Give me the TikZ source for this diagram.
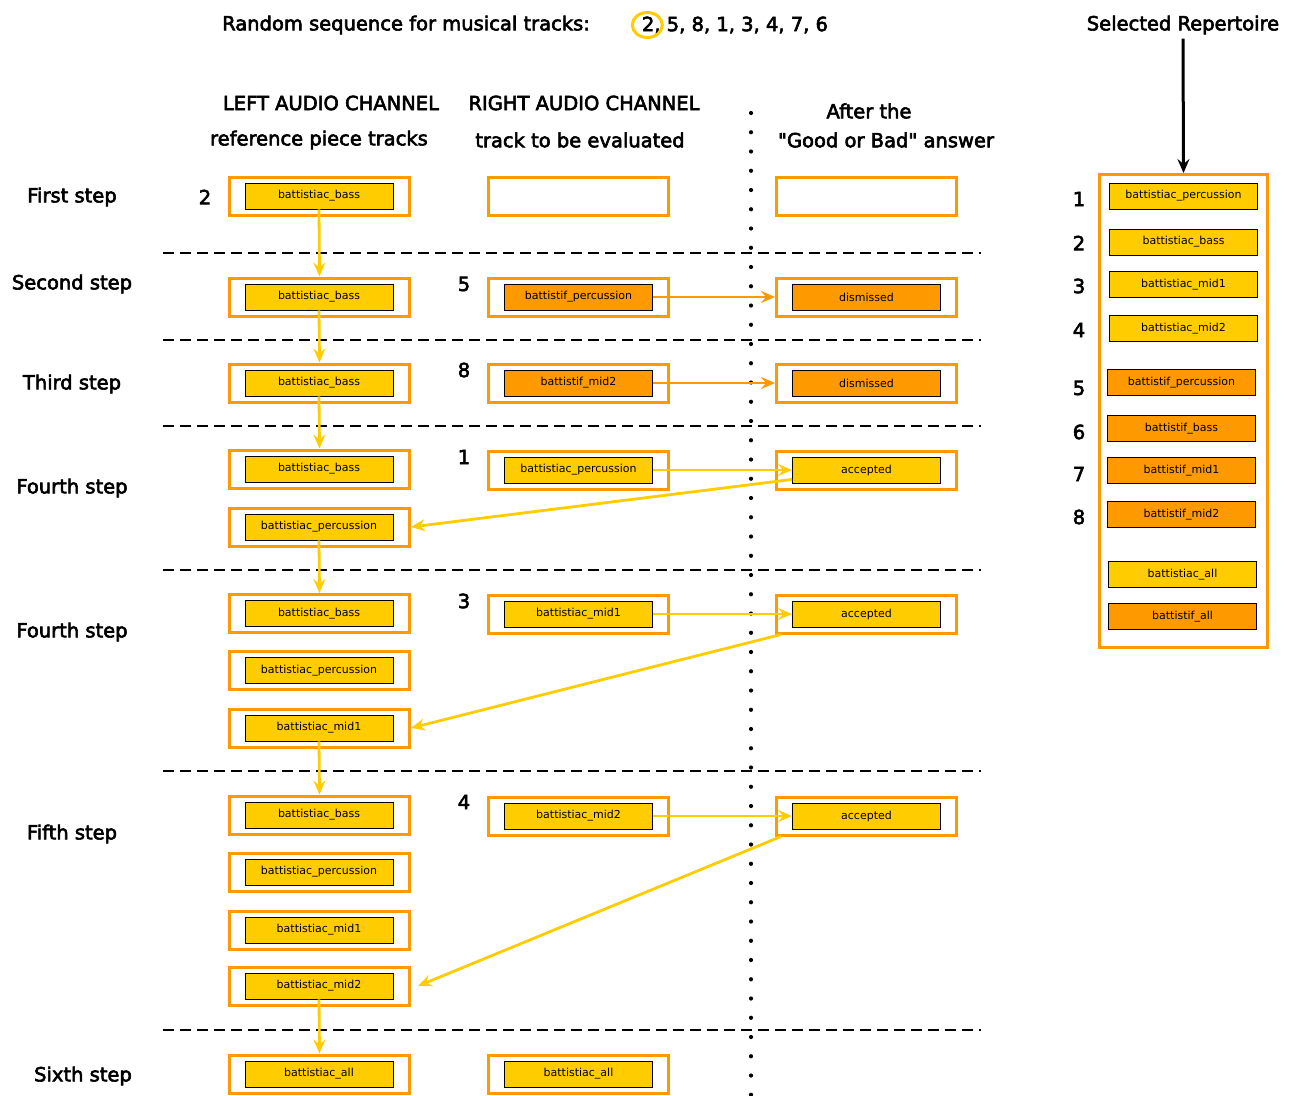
\documentclass[tikz,border=0pt]{standalone}
\usepackage{fontspec}
\setmainfont{DejaVu Sans}
\newfontfamily\hdfont{DejaVu Sans}[FakeBold=3,Ligatures=TeXOff]
\usetikzlibrary{arrows.meta}
\definecolor{gold}{HTML}{FFCC00}
\definecolor{amber}{HTML}{FF9900}
\tikzset{
  frame/.style={draw=amber,line width=3pt,minimum width=180pt,minimum height=38pt,inner sep=0pt},
  trk/.style={draw=black,line width=0.9pt,minimum width=148pt,minimum height=26pt,inner sep=0pt,font=\fontsize{11}{13}\selectfont},
  ac/.style={trk,fill=gold},
  tf/.style={trk,fill=amber},
  big/.style={font=\hdfont\fontsize{19.5}{23}\selectfont,inner sep=0pt},
  stepline/.style={line width=2pt,dash pattern=on 11pt off 6pt},
  yarr/.style={gold,line width=2.8pt,-{Stealth[length=14pt,width=12pt,inset=5pt]}},
  oarr/.style={amber,line width=2.8pt,-{Stealth[length=14pt,width=12pt,inset=5pt]}}
}
\begin{document}
\begin{tikzpicture}[x=1pt,y=-1pt]
\useasboundingbox (0,0) rectangle (1298,1095);
% dong tieu de
\node[big] (rnd) at (406,25) {Random sequence for musical tracks:};
\node[big] (seq) at (735,25) {2, 5, 8, 1, 3, 4, 7, 6};
\draw[gold,line width=3pt] ([xshift=5.5pt]seq.west) ellipse (15 and 12.5);
\node[big] (hl1) at (331,103) {LEFT AUDIO CHANNEL};
\node[big] (hl2) at (319,140) {reference piece tracks};
\node[big] (hm1) at (584,103) {RIGHT AUDIO CHANNEL};
\node[big] (hm2) at (580,140) {track to be evaluated};
\node[big] (hr1) at (869,111) {After the};
\node[big] (hr2) at (886,140) {"Good or Bad" answer};
% cac buoc
\node[big] (st1) at (72,197) {First step};
\node[big] (st2) at (72,284) {Second step};
\node[big] (st3) at (72,384) {Third step};
\node[big] (st4) at (72,488) {Fourth step};
\node[big] (st5) at (72,632) {Fourth step};
\node[big] (st6) at (72,834) {Fifth step};
\node[big] (st7) at (83,1076) {Sixth step};
% duong ngang, duong cham
\foreach \y in {253,340,426,570,771,1030}
\draw[stepline] (163,\y)--(981,\y);
\draw[line width=4.2pt,line cap=round,dash pattern=on 0pt off 19.25pt] (751,113)--(751,1095);
% cot trai
\foreach \n/\y/\t in {1/196/bass,2/297/bass,3/383/bass,4/469/bass,5/527/percussion,6/613.5/bass,7/670.5/percussion,8/728/mid1,9/815/bass,10/872/percussion,11/930/mid1,12/986/mid2,13/1074/all}
{\node[frame] (fL\n) at (319.5,\y) {};
\node[ac] (L\n) at (319,\y) {battistiac\_\t};}
% cot giua
\node[frame] (fM1) at (578.5,196) {};
\foreach \n/\y/\s/\t in {2/297/tf/battistif\_percussion,3/383/tf/battistif\_mid2,4/470/ac/battistiac\_percussion,6/614/ac/battistiac\_mid1,9/816/ac/battistiac\_mid2,13/1074/ac/battistiac\_all}
{\node[frame] (fM\n) at (578.5,\y) {};
\node[\s] (M\n) at (578.5,\y) {\t};}
% cot phai
\node[frame] (fR1) at (866.5,196) {};
\foreach \n/\y/\s/\t in {2/297/tf/dismissed,3/383/tf/dismissed,4/470/ac/accepted,6/614/ac/accepted,9/816/ac/accepted}
{\node[frame] (fR\n) at (866.5,\y) {};
\node[\s] (R\n) at (866.5,\y) {\t};}
% so thu tu
\node[big] (n2) at (205,197) {2};
\node[big] (n5) at (464,284) {5};
\node[big] (n8) at (464,370) {8};
\node[big] (n1) at (464,457) {1};
\node[big] (n3) at (464,601) {3};
\node[big] (n4) at (464,802) {4};
% mui ten
\foreach \a/\b in {1/2,2/3,3/4,5/6,8/9,12/13}
\draw[yarr] (L\a.south)--(fL\b.north);
\draw[oarr] (M2.east)--(fR2.west);
\draw[oarr] (M3.east)--(fR3.west);
\foreach \n in {4,6,9}
\draw[yarr] (M\n.east)--(R\n.west);
\draw[yarr] ([yshift=4pt]R4.south west)--(fL5.east);
\draw[yarr] ([xshift=6pt]fR6.south west)--(fL8.east);
\draw[yarr] ([xshift=6pt]fR9.south west)--([xshift=7pt]fL12.east);
% kho nhac
\node[big] (sel) at (1183,25) {Selected Repertoire};
\node[draw=amber,line width=3pt,minimum width=168pt,minimum height=473pt,inner sep=0pt] (rep) at (1183.5,411) {};
\draw[line width=3pt,-{Stealth[length=14pt,width=12pt,inset=5pt]}] ([yshift=-4pt]sel.south)--(rep.north);
\foreach \n/\x/\y/\s/\t in {1/1183.5/196/ac/battistiac\_percussion,2/1183.5/242/ac/battistiac\_bass,3/1183.5/284.5/ac/battistiac\_mid1,4/1183.5/328.5/ac/battistiac\_mid2,5/1181.5/382.5/tf/battistif\_percussion,6/1181.5/428.5/tf/battistif\_bass,7/1181.5/470.5/tf/battistif\_mid1,8/1181.5/514.5/tf/battistif\_mid2,9/1182.5/574.5/ac/battistiac\_all,10/1182.5/616.5/tf/battistif\_all}
\node[\s] (P\n) at (\x,\y) {\t};
\foreach \n/\y in {1/199,2/243,3/286,4/330,5/388,6/432,7/474,8/517}
\node[big] (p\n) at (1079,\y) {\n};
\end{tikzpicture}
\end{document}
